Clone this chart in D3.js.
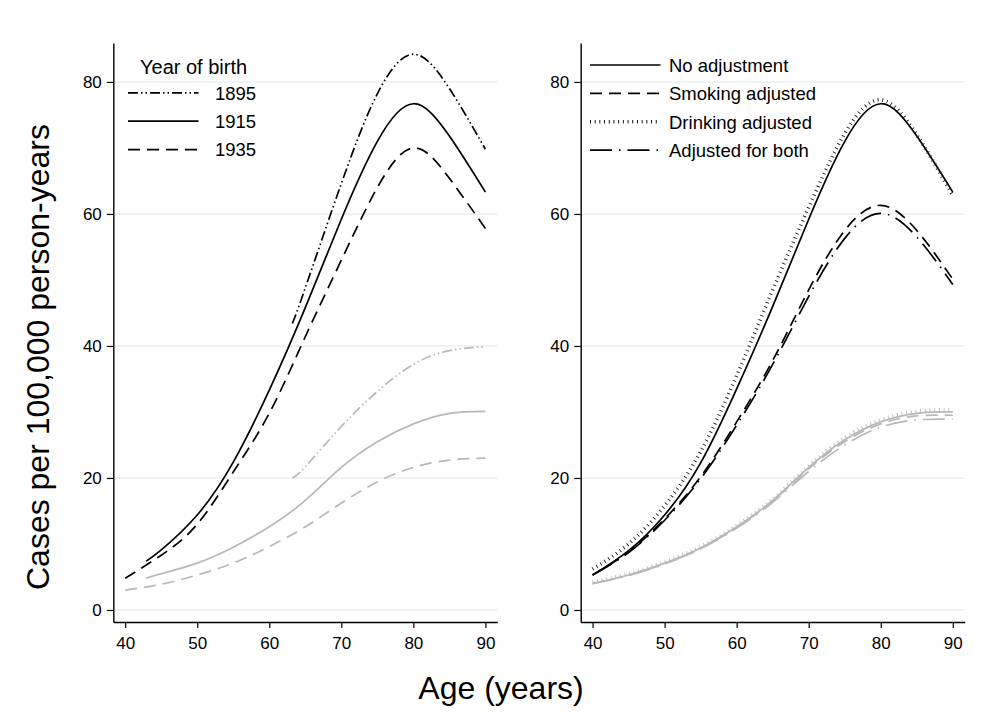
<!DOCTYPE html>
<html>
<head>
<meta charset="utf-8">
<script src="https://cdnjs.cloudflare.com/ajax/libs/d3/7.8.5/d3.min.js"></script>
<style>
  body { margin: 0; background: #fff; }
  text { font-family: "Liberation Sans", Arial, sans-serif; fill: #000; }
</style>
</head>
<body>
<div id="chart"></div>
<script>
// ages at which the fitted curves were read
var agesFull = [40, 45, 50, 55, 60, 65, 70, 75, 80, 85, 90];
var ages1915 = [42.9, 45, 50, 55, 60, 65, 70, 75, 80, 85, 90];
var ages1895 = [63.2, 65, 70, 75, 80, 85, 90];

// left panel: birth cohorts (black = first group, grey = second group)
var black1895 = [43.4, 48.8, 64.6, 78.2, 84.2, 79.0, 69.8];
var black1915 = [7.4, 9.1, 14.4, 22.4, 33.3, 45.8, 59.2, 71.0, 76.7, 71.8, 63.3];
var black1935 = [4.8, 8.3, 13.0, 20.9, 29.8, 41.4, 53.0, 64.0, 70.0, 65.4, 57.8];
var grey1895 = [20.0, 21.7, 27.8, 33.1, 37.2, 39.3, 39.9];
var grey1915 = [4.8, 5.5, 7.1, 9.5, 12.6, 16.6, 21.6, 25.5, 28.2, 29.8, 30.1];
var grey1935 = [3.0, 3.9, 5.3, 7.1, 9.6, 12.6, 16.2, 19.4, 21.6, 22.7, 23.0];

// right panel: adjustment models
var blackNoAdj = [5.3, 9.0, 14.4, 22.3, 33.5, 46.0, 59.2, 71.0, 76.7, 71.8, 63.3];
var blackSmoke = [5.3, 8.8, 13.8, 20.2, 28.5, 37.8, 48.5, 57.5, 61.3, 57.5, 50.1];
var blackDrink = [6.2, 10.0, 15.8, 24.0, 35.5, 48.5, 61.0, 72.2, 77.3, 72.0, 62.8];
var blackBoth = [5.3, 8.7, 13.6, 19.9, 28.0, 37.2, 47.5, 56.3, 60.1, 56.5, 49.3];
var greyNoAdj = [4.0, 5.3, 7.1, 9.4, 12.6, 16.6, 21.6, 25.8, 28.5, 29.8, 30.0];
var greySmoke = [4.0, 5.3, 7.0, 9.3, 12.5, 16.5, 21.4, 25.5, 28.2, 29.4, 29.5];
var greyDrink = [4.2, 5.5, 7.3, 9.6, 12.8, 16.8, 21.8, 26.1, 28.8, 30.1, 30.3];
var greyBoth = [4.0, 5.2, 7.0, 9.3, 12.4, 16.3, 21.0, 25.0, 27.7, 28.8, 28.9];

var xTicks = [40, 50, 60, 70, 80, 90];
var yTicks = [0, 20, 40, 60, 80];
var cohortTitle = "Year of birth";
var cohortLabels = ["1895", "1915", "1935"];
var adjustLabels = ["No adjustment", "Smoking adjusted", "Drinking adjusted", "Adjusted for both"];

// line patterns
var dashDotDot = "10,3,1.5,3,1.5,3";
var dashed = "12,7";
var ticked = "0.9,3.8";
var longDashDot = "22,7,1.5,7";
var black = "#000";
var grey = "#b8b8b8";

var svgWidth = 989;
var svgHeight = 727;
var plotTop = 43;
var plotWidth = 384;
var plotHeight = 579;
var leftX = 113.3;
var rightX = 580.7;

var svg = d3.select("#chart")
  .append("svg")
  .attr("width", svgWidth)
  .attr("height", svgHeight);

svg.append("rect")
  .attr("width", svgWidth)
  .attr("height", svgHeight)
  .attr("fill", "#fff");

var xScale = d3.scaleLinear().domain([38.35, 91.65]).range([0, plotWidth]);
var yScale = d3.scaleLinear().domain([-1.82, 85.9]).range([plotHeight, 0]);

// smooth spline through the read-off points
var line = d3.line()
  .x(d => xScale(d.age))
  .y(d => yScale(d.value))
  .curve(d3.curveNatural);

function pairs(ages, values) {
  return ages.map((a, i) => ({ age: a, value: values[i] }));
}

function drawPanel(offsetX, series) {
  var g = svg.append("g")
    .attr("transform", `translate(${offsetX}, ${plotTop})`);

  // light horizontal grid
  g.selectAll(".grid").data(yTicks).enter()
    .append("line")
    .attr("x1", 0)
    .attr("x2", plotWidth)
    .attr("y1", d => yScale(d))
    .attr("y2", d => yScale(d))
    .attr("stroke", "#e8f0f2")
    .attr("stroke-width", 1.6);

  series.forEach(function(s) {
    g.append("path")
      .datum(pairs(s.ages, s.values))
      .attr("d", line)
      .attr("fill", "none")
      .attr("stroke", s.color)
      .attr("stroke-width", s.dash === ticked ? 3.6 : 1.7)
      .attr("stroke-dasharray", s.dash);
  });

  var yAxis = d3.axisLeft(yScale).tickValues(yTicks).tickSize(6.5).tickSizeOuter(0).tickPadding(5);
  var xAxis = d3.axisBottom(xScale).tickValues(xTicks).tickSize(6).tickSizeOuter(0).tickPadding(9);

  var ya = g.append("g").call(yAxis);
  var xa = g.append("g").attr("transform", `translate(0, ${plotHeight})`).call(xAxis);
  [ya, xa].forEach(function(a) {
    a.select(".domain").attr("stroke-width", 1.4);
    a.selectAll(".tick line").attr("stroke-width", 1.2);
    a.selectAll("text").style("font-size", "17px").attr("fill", "#000");
  });
  return g;
}

drawPanel(leftX, [
  { ages: ages1895, values: grey1895, color: grey, dash: dashDotDot },
  { ages: ages1915, values: grey1915, color: grey, dash: null },
  { ages: agesFull, values: grey1935, color: grey, dash: dashed },
  { ages: ages1895, values: black1895, color: black, dash: dashDotDot },
  { ages: ages1915, values: black1915, color: black, dash: null },
  { ages: agesFull, values: black1935, color: black, dash: dashed }
]);

drawPanel(rightX, [
  { ages: agesFull, values: greyNoAdj, color: grey, dash: null },
  { ages: agesFull, values: greySmoke, color: grey, dash: dashed },
  { ages: agesFull, values: greyDrink, color: grey, dash: ticked },
  { ages: agesFull, values: greyBoth, color: grey, dash: longDashDot },
  { ages: agesFull, values: blackNoAdj, color: black, dash: null },
  { ages: agesFull, values: blackSmoke, color: black, dash: dashed },
  { ages: agesFull, values: blackDrink, color: "#222", dash: ticked },
  { ages: agesFull, values: blackBoth, color: black, dash: longDashDot }
]);

// legends
function drawLegend(x0, y0, labels, dashes, labelX) {
  var rowGap = 28.4;
  labels.forEach(function(lab, i) {
    var y = y0 + i * rowGap;
    svg.append("line")
      .attr("x1", x0).attr("x2", x0 + 70.5)
      .attr("y1", y).attr("y2", y)
      .attr("stroke", "#000")
      .attr("stroke-width", dashes[i] === ticked ? 3.6 : 1.7)
      .attr("stroke-dasharray", dashes[i]);
    svg.append("text")
      .attr("x", labelX)
      .attr("y", y + 6.8)
      .style("font-size", "18.5px")
      .text(lab);
  });
}

svg.append("text")
  .attr("x", 140)
  .attr("y", 74)
  .style("font-size", "20px")
  .text(cohortTitle);

drawLegend(128, 92.8, cohortLabels, [dashDotDot, null, dashed], 215);
drawLegend(590, 65, adjustLabels, [null, dashed, ticked, longDashDot], 669);

// axis titles
svg.append("text")
  .attr("transform", "translate(49, 357) rotate(-90)")
  .attr("text-anchor", "middle")
  .style("font-size", "32px")
  .text("Cases per 100,000 person-years");

svg.append("text")
  .attr("x", 501)
  .attr("y", 699)
  .attr("text-anchor", "middle")
  .style("font-size", "32px")
  .text("Age (years)");
</script>
</body>
</html>
